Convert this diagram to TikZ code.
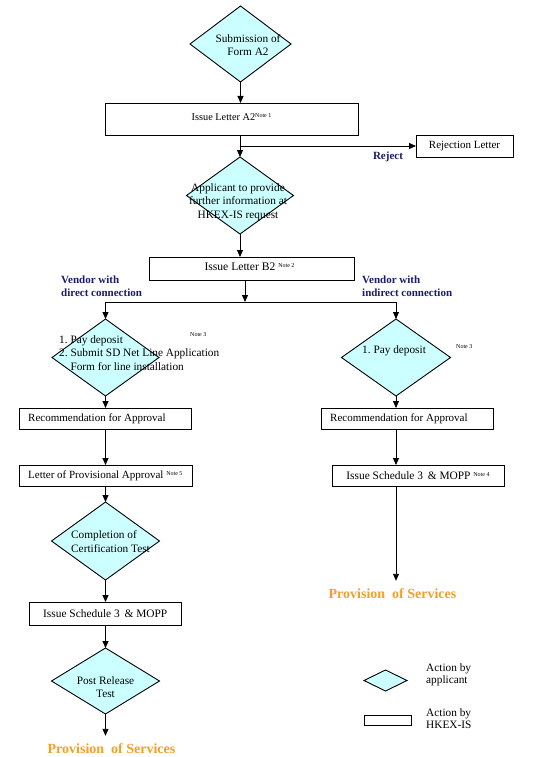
\documentclass[tikz,border=0pt]{standalone}
\usepackage{fontspec}
\setmainfont{Liberation Serif}
\usetikzlibrary{shapes.geometric,arrows.meta,calc}
\definecolor{cyanfill}{RGB}{204,255,255}
\definecolor{navy}{RGB}{28,28,110}
\definecolor{orng}{RGB}{242,160,40}
\newcommand{\mynote}[1]{\raisebox{3pt}{\fontsize{6}{7}\selectfont Note #1}}
\begin{document}
\begin{tikzpicture}[x=1pt,y=-1pt,
  dia/.style={diamond, draw, fill=cyanfill, inner sep=0pt, outer sep=0pt, line width=0.9pt},
  box/.style={rectangle, draw, fill=white, inner sep=0pt, outer sep=0pt, line width=0.9pt},
  txt/.style={inner sep=0pt, font=\fontsize{11.3}{13.5}\selectfont},
  btxt/.style={inner sep=0pt, font=\fontsize{11}{13}\selectfont},
  arr/.style={-{Triangle[length=7pt,width=6pt]}, line width=0.9pt},
  lbl/.style={inner sep=0pt, align=left, text=navy, font=\bfseries\fontsize{11}{12.5}\selectfont},
  prov/.style={inner xsep=0pt, inner ysep=8pt, text=orng, font=\bfseries\fontsize{14}{16}\selectfont},
  note/.style={inner sep=0pt, font=\fontsize{6}{7}\selectfont},
  leg/.style={inner sep=0pt, align=left, font=\fontsize{11.3}{12}\selectfont}
]
\useasboundingbox (0,0) rectangle (542,757);
\fill[white] (0,0) rectangle (542,757);

% ---- shapes ----
\node[dia, minimum width=101pt, minimum height=76pt] (d1) at (240.5,44) {};
\node[box, minimum width=253pt, minimum height=32pt] (a2) at (231.5,119) {};
\node[box, minimum width=97pt, minimum height=22pt] (rej) at (464.5,146) {};
\node[dia, minimum width=107pt, minimum height=77pt] (d2) at (240,195.5) {};
\node[box, minimum width=205pt, minimum height=23pt] (b2) at (251.5,268.5) {};
\coordinate (split) at (245,302);
\node[dia, minimum width=107pt, minimum height=77pt] (d3) at (105.5,357.5) {};
\node[dia, minimum width=109pt, minimum height=77pt] (d6) at (396,357.5) {};
\node[box, minimum width=172pt, minimum height=21pt] (rl) at (105,418.5) {};
\node[box, minimum width=173pt, minimum height=21pt] (lp) at (105.5,475.5) {};
\node[box, minimum width=172pt, minimum height=21pt] (rr) at (407,418.5) {};
\node[box, minimum width=172pt, minimum height=21pt] (s3r) at (418,475.5) {};
\node[dia, minimum width=108pt, minimum height=78pt] (d4) at (105.5,541) {};
\node[box, minimum width=151.5pt, minimum height=23pt] (s3l) at (105.25,613.5) {};
\node[dia, minimum width=108pt, minimum height=66pt] (d5) at (105.5,681) {};
\node[prov] (pl) at (111.5,749) {Provision~ of Services};
\node[prov] (pr) at (392.5,594) {Provision~ of Services};

% legend
\node[dia, minimum width=43pt, minimum height=21pt] (ld) at (385.5,680.5) {};
\node[box, minimum width=47pt, minimum height=10pt] (lr) at (387.5,720) {};
\node[leg, anchor=west] (ldt) at (426,675) {Action by\\applicant};
\node[leg, anchor=west] (lrt) at (426,719) {Action by\\HKEX-IS};

% ---- texts ----
\node[txt, align=center] (d1t) at (248,45) {Submission of\\Form A2};
\node[inner sep=0pt, font=\fontsize{10.3}{12}\selectfont] (a2t) at (231.5,117) {Issue Letter A2\mynote{1}};
\node[btxt] (rejt) at (rej.center) {Rejection Letter};
\node[lbl] (rejl) at (388,157) {Reject};
\node[txt, align=center] (d2t) at (238,202) {Applicant to provide\\further information at\\HKEX-IS request};
\node[inner sep=0pt, font=\fontsize{11.6}{13}\selectfont] (b2t) at (249.5,267) {Issue Letter B2 \mynote{2}};
\node[lbl, anchor=west] (vd) at (61,286) {Vendor with\\direct connection};
\node[lbl, anchor=west] (vi) at (362,286) {Vendor with\\indirect connection};
\node[txt, align=left, anchor=west] (d3t) at (59,353) {1.\ Pay deposit\\2.\ Submit SD Net Line Application\\\phantom{2.\ }Form for line installation};
\node[note, anchor=west] (n3a) at (190,335) {Note 3};
\node[txt, anchor=west] (d6t) at (362,351) {1.\ Pay deposit};
\node[note, anchor=west] (n3b) at (456,347) {Note 3};
\node[btxt, anchor=west] (rlt) at (28,418.5) {Recommendation for Approval};
\node[btxt, anchor=west] (lpt) at (28,475.5) {Letter of Provisional Approval \mynote{5}};
\node[btxt, anchor=west] (rrt) at (330,418.5) {Recommendation for Approval};
\node[inner sep=0pt, font=\fontsize{11.4}{13}\selectfont] (s3rt) at (418,475.5) {Issue Schedule 3 \,\& MOPP \mynote{4}};
\node[txt, align=left, anchor=west] (d4t) at (71,541.5) {Completion of\\Certification Test};
\node[inner sep=0pt, font=\fontsize{11.4}{13}\selectfont] (s3lt) at (105.25,613.5) {Issue Schedule 3 \,\& MOPP};
\node[txt, align=center] (d5t) at (105.5,687) {Post Release\\Test};

% ---- connectors ----
\draw[arr] (d1.south) -- (d1.south |- a2.north);
\draw[arr] (d2.north |- a2.south) -- (d2.north);
\draw[arr] (d2.north |- rej.west) -- (rej.west);
\draw[arr] (d2.south) -- (d2.south |- b2.north);
\draw[arr] (split |- b2.south) -- (split);
\draw[arr] (split) -| (d3.north);
\draw[arr] (split) -| (d6.north);
\draw[arr] (d3.south) -- (d3.south |- rl.north);
\draw[arr] (d3.south |- rl.south) -- (d3.south |- lp.north);
\draw[arr] (d3.south |- lp.south) -- (d4.north);
\draw[arr] (d4.south) -- (d4.south |- s3l.north);
\draw[arr] (d4.south |- s3l.south) -- (d5.north);
\draw[arr] (d5.south) -- (d5.south |- pl.north);
\draw[arr] (d6.south) -- (d6.south |- rr.north);
\draw[arr] (d6.south |- rr.south) -- (d6.south |- s3r.north);
\draw[arr] (d6.south |- s3r.south) -- (d6.south |- pr.north);
\end{tikzpicture}
\end{document}
